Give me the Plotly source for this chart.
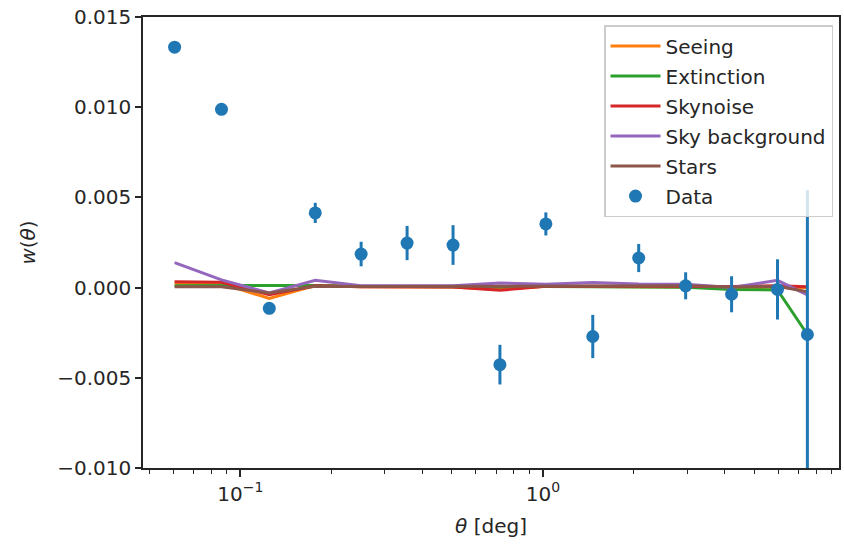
import plotly.graph_objects as go

# ---- data ----
theta = [0.0606, 0.0866, 0.1246, 0.1768, 0.2507, 0.3557, 0.5047, 0.7211,
         1.023, 1.462, 2.074, 2.965, 4.206, 5.965, 7.49]
w_data = [0.01333, 0.00988, -0.00115, 0.00414, 0.00186, 0.00247, 0.00236,
          -0.00427, 0.00353, -0.00271, 0.00164, 0.00010, -0.00037, -0.00010, -0.00260]
w_err = [0.0001, 0.0001, 0.0002, 0.00056, 0.00068, 0.00095, 0.0011,
         0.0011, 0.00064, 0.0012, 0.00078, 0.00075, 0.0010, 0.00167, 0.0080]

seeing = [0.00024, 0.00022, -0.00060, 0.00012, 0.00005, 0.00005, 0.00004, -0.00010,
          0.00008, 0.00006, 0.00005, 0.00004, 0.00002, 0.00002, 0.00000]
extinction = [0.00010, 0.00012, 0.00014, 0.00012, 0.00008, 0.00006, 0.00006, 0.00004,
              0.00006, 0.00006, 0.00004, 0.00002, -0.00010, -0.00013, -0.00260]
skynoise = [0.00033, 0.00030, -0.00040, 0.00010, 0.00005, 0.00005, 0.00004, -0.00015,
            0.00008, 0.00008, 0.00006, 0.00008, 0.00006, 0.00010, 0.00005]
skybackground = [0.00138, 0.00043, -0.00030, 0.00040, 0.00010, 0.00010, 0.00010, 0.00025,
                 0.00018, 0.00028, 0.00020, 0.00018, 0.00000, 0.00040, -0.00040]
stars = [0.00005, 0.00005, -0.00030, 0.00008, 0.00006, 0.00006, 0.00006, 0.00006,
         0.00008, 0.00010, 0.00008, 0.00010, 0.00004, 0.00008, -0.00023]

series = [("Seeing", seeing, "#ff7f0e"),
          ("Extinction", extinction, "#2ca02c"),
          ("Skynoise", skynoise, "#d62728"),
          ("Sky background", skybackground, "#9467bd"),
          ("Stars", stars, "#8c564b")]

y_ticks = [-0.010, -0.005, 0.000, 0.005, 0.010, 0.015]
y_ticktext = ["\u22120.010", "\u22120.005", "0.000", "0.005", "0.010", "0.015"]
x_ticks = [0.1, 1.0]
x_ticktext = ["10<sup>\u22121</sup>", "10<sup>0</sup>"]
x_minor = [0.05, 0.06, 0.07, 0.08, 0.09, 0.2, 0.3, 0.4, 0.5, 0.6, 0.7, 0.8, 0.9,
           2, 3, 4, 5, 6, 7, 8, 9]

FONT = "DejaVu Sans"
TXT = "#262626"
FS = 20

fig = go.Figure()
for i, (name, vals, col) in enumerate(series):
    fig.add_trace(go.Scatter(x=theta, y=vals, mode="lines", name=name,
                             line=dict(color=col, width=3), legendgroup=f"g{i}"))

fig.add_trace(go.Scatter(
    x=theta, y=w_data, mode="markers", name="Data", legendgroup="g5",
    marker=dict(color="#1f77b4", size=13),
    error_y=dict(type="data", array=w_err, visible=True, color="#1f77b4",
                 thickness=3, width=0),
))

axis_common = dict(showline=True, linecolor=TXT, linewidth=1.6, mirror=True,
                   showgrid=False, zeroline=False, ticks="outside",
                   tickcolor=TXT, tickwidth=1.6,
                   tickfont=dict(family=FONT, size=FS, color=TXT))

fig.update_xaxes(type="log", range=[-1.322, 0.979], tickmode="array",
                 tickvals=x_ticks, ticktext=x_ticktext, ticklen=7,
                 minor=dict(tickvals=x_minor, ticks="outside", ticklen=4,
                            tickcolor=TXT, tickwidth=1.2),
                 title=dict(text="<i>\u03b8</i> [deg]", standoff=14,
                            font=dict(family=FONT, size=FS, color=TXT)),
                 **axis_common)
fig.update_yaxes(range=[-0.010, 0.015], tickmode="array", tickvals=y_ticks,
                 ticktext=y_ticktext, ticklen=6,
                 title=dict(text="<i>w</i>(<i>\u03b8</i>)", standoff=16,
                            font=dict(family=FONT, size=FS, color=TXT)),
                 **axis_common)

fig.update_layout(
    width=844, height=544,
    margin=dict(l=143, r=3, t=17, b=76),
    paper_bgcolor="white", plot_bgcolor="white",
    font=dict(family=FONT, size=FS, color=TXT),
    showlegend=True,
    legend=dict(x=0.9914, y=0.982, xanchor="right", yanchor="top",
                bgcolor="rgba(255,255,255,0.8)", bordercolor="#cccccc",
                borderwidth=1.5, tracegroupgap=1, itemwidth=50,
                font=dict(family=FONT, size=FS, color=TXT)),
)

fig.write_html("out.html")
